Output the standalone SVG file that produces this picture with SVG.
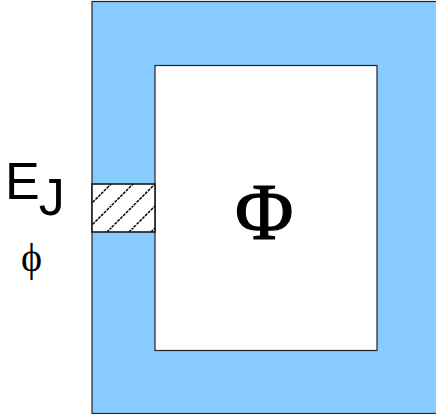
<svg xmlns="http://www.w3.org/2000/svg" width="436" height="414" viewBox="0 0 436 414">
<defs>
<pattern id="hatch" patternUnits="userSpaceOnUse" width="22" height="22" patternTransform="translate(92 184)">
<path d="M-5 24L24 -5M14 27L27 14M-5 2L2 -5" stroke="#000" stroke-width="1.5" stroke-dasharray="3 1" fill="none"/>
</pattern>
</defs>
<style>
.o{stroke:#222;stroke-width:1.2}
text{fill:#000}
.s{font-family:"Liberation Sans",Arial,sans-serif}
.t{font-family:"Liberation Serif","DejaVu Serif",serif}
</style>
<g id="frame"><rect class="o" x="92" y="1.5" width="346" height="412" fill="#88ccff"/></g>
<g id="hole"><rect class="o" x="155" y="65.5" width="222" height="285" fill="#fff"/></g>
<g id="junction"><rect class="o" x="92" y="184" width="63" height="48" fill="#fff"/><rect x="92" y="184" width="63" height="48" fill="url(#hatch)" class="o"/></g>
<g id="labels">
<text class="s" x="5" y="199" font-size="52">E<tspan dy="16" dx="-1">J</tspan></text>
<text class="t" x="21" y="271" font-size="40">ϕ</text>
<text class="t" x="235" y="239" font-size="80" stroke="#000" stroke-width="1.2">Φ</text>
</g>
</svg>
